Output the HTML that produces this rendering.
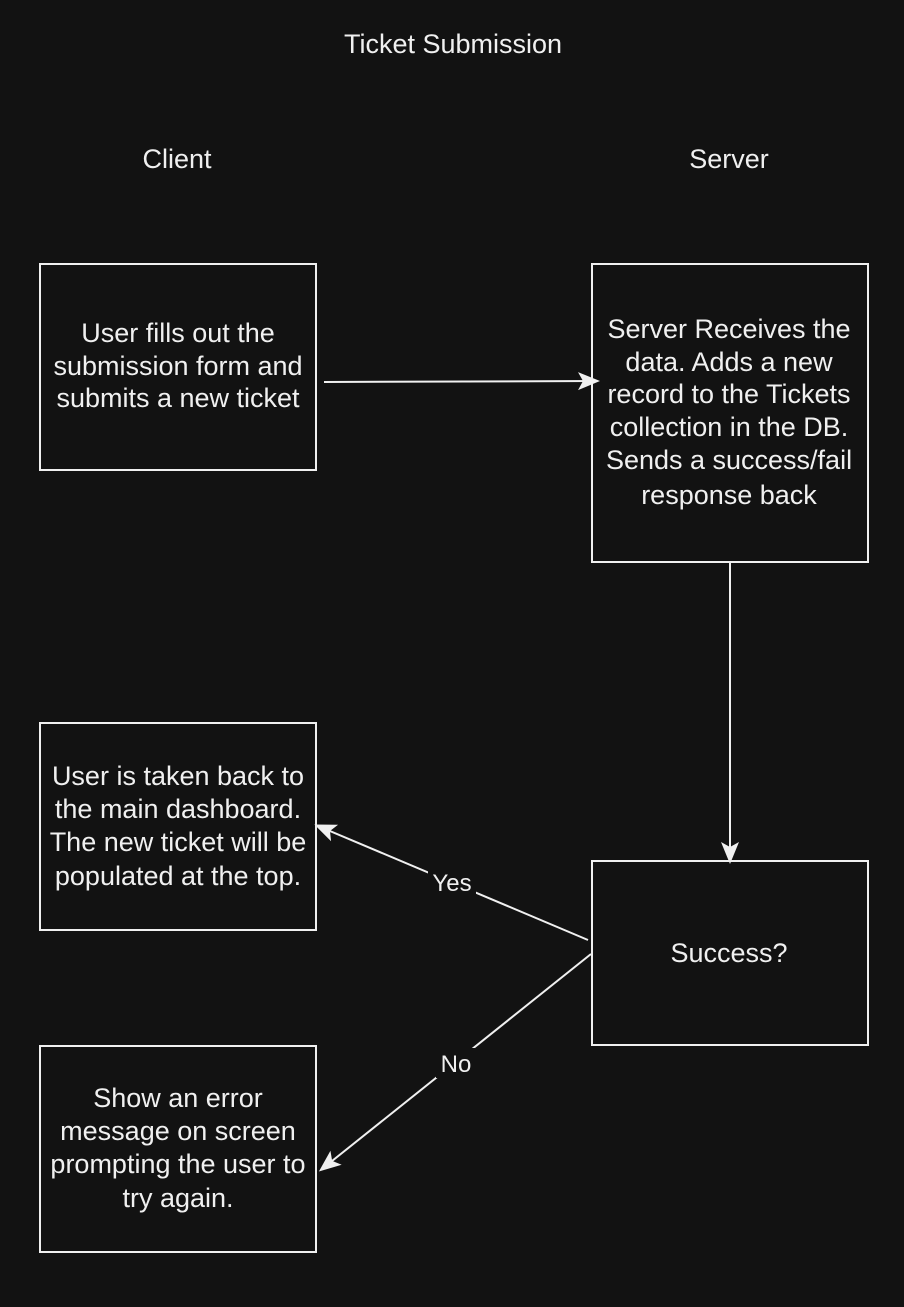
<!DOCTYPE html>
<html><head><style>
html,body{margin:0;padding:0;background:#121212;}
body{width:904px;height:1302px;overflow:hidden;}
svg text{font-family:"Liberation Sans",Helvetica,Arial,sans-serif;fill:#f0f0f0;font-size:27px;text-anchor:middle;}
</style></head><body>
<svg width="904" height="1302" viewBox="0 0 904 1302" xmlns="http://www.w3.org/2000/svg">
<rect width="904" height="1302" fill="#121212"/>
<defs>
<marker id="a" markerWidth="24" markerHeight="20" refX="18" refY="9" orient="auto" markerUnits="userSpaceOnUse" viewBox="0 0 24 18">
<path d="M0,0 L22,9 L0,18 L5,9 Z" fill="#f0f0f0"/>
</marker>
</defs>
<g fill="none" stroke="#f0f0f0" stroke-width="2">
<rect x="40" y="264" width="276" height="206"/>
<rect x="40" y="723" width="276" height="207"/>
<rect x="40" y="1046" width="276" height="206"/>
<rect x="592" y="264" width="276" height="298"/>
<rect x="592" y="861" width="276" height="184"/>
<line x1="324" y1="382" x2="596" y2="381" marker-end="url(#a)"/>
<line x1="730" y1="563" x2="730" y2="860" marker-end="url(#a)"/>
<line x1="588" y1="940" x2="318" y2="826" marker-end="url(#a)"/>
<line x1="591" y1="954" x2="322" y2="1169" marker-end="url(#a)"/>
</g>
<rect x="428" y="866" width="48" height="30" fill="#121212"/>
<rect x="436" y="1048" width="40" height="30" fill="#121212"/>
<text x="452" y="891" style="font-size:24px">Yes</text>
<text x="456" y="1072" style="font-size:24px">No</text>
<text x="453" y="53">Ticket Submission</text>
<text x="177" y="168">Client</text>
<text x="729" y="168">Server</text>
<text x="178" y="342">User fills out the</text>
<text x="178" y="375">submission form and</text>
<text x="178" y="407">submits a new ticket</text>
<text x="729" y="338">Server Receives the</text>
<text x="729" y="371">data. Adds a new</text>
<text x="729" y="403">record to the Tickets</text>
<text x="729" y="436">collection in the DB.</text>
<text x="729" y="469">Sends a success/fail</text>
<text x="729" y="504">response back</text>
<text x="178" y="785">User is taken back to</text>
<text x="178" y="818">the main dashboard.</text>
<text x="178" y="851">The new ticket will be</text>
<text x="178" y="885">populated at the top.</text>
<text x="729" y="962">Success?</text>
<text x="178" y="1107">Show an error</text>
<text x="178" y="1140">message on screen</text>
<text x="178" y="1173">prompting the user to</text>
<text x="178" y="1207">try again.</text>
</svg>
</body></html>
